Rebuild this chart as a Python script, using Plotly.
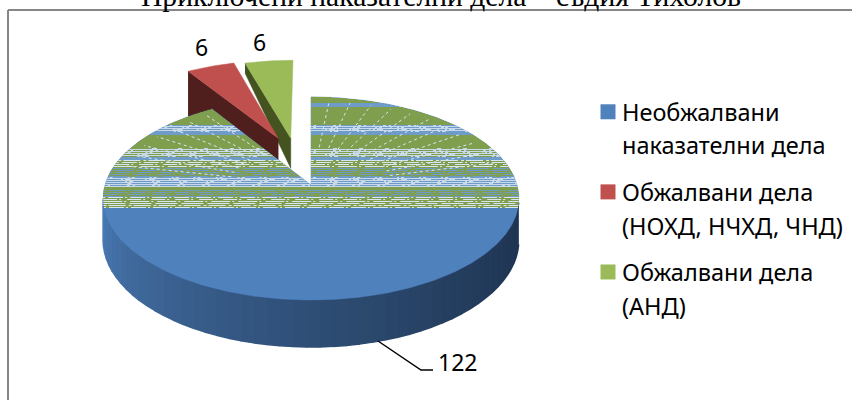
import numpy as np
import plotly.graph_objects as go

categories = ["Необжалвани<br>наказателни дела", "Обжалвани дела<br>(НОХД, НЧХД, ЧНД)", "Обжалвани дела<br>(АНД)"]
values = [122, 6, 6]
title_text = "Приключени наказателни дела – съдия Тихолов"
tops = ["#4f81bd", "#c0504d", "#9bbb59"]
sides = ["#2b4a70", "#4f1f1d", "#44531f"]
explode = [(0.0, 0.0), (-0.17, 0.50), (-0.105, 0.50)]
label_xy = [(457, 362), (201, 47), (259, 42)]

GREEN, LIGHT, MID, PALE = "#7f9f4f", "#c8d9ea", "#6f9bc8", "#dbe5f1"
# Texture of the rear half of the main slice: band top, band bottom (canvas px), base colour, speckle colour
band_y0 = [96, 103, 107, 118, 125, 132, 135, 148, 157, 160, 168, 177, 187, 190, 197]
band_y1 = [103, 107, 118, 125, 132, 135, 148, 157, 160, 168, 177, 187, 190, 197, 208]
band_base = [GREEN, MID, GREEN, GREEN, LIGHT, MID, GREEN, LIGHT, MID, GREEN, GREEN, LIGHT, GREEN, GREEN, GREEN]
band_speck = [None, None, None, None, MID, None, None, GREEN, None, PALE, MID, MID, None, MID, PALE]
dash_cycle = ["3px,2px,17px,3px", "19px,2px,2px,4px", "2px,3px,15px,2px", "22px,4px", "14px,2px,2px,6px"]

W, H = 852, 400
CX, CY, A, B, K = 311, 185, 206, 99.7, 0.133


def proj(X, Y):
    d = 1 + K * Y
    return CX + A * X / d, CY - B * Y / d


def arc(t0, t1, ox=0.0, oy=0.0, n=160):
    t = np.radians(np.linspace(t0, t1, n))
    return proj(ox + np.sin(t), oy + np.cos(t))


fig = go.Figure()


def poly(x, y, color, edge=0.5):
    fig.add_trace(go.Scatter(x=list(x), y=list(y), mode="lines", fill="toself", fillcolor=color,
                             line=dict(color=color, width=edge), hoverinfo="skip", showlegend=False))


def rows(segments, color, dash="solid", width=1.2):
    xs, ys = [], []
    for x0, x1, y in segments:
        xs += [x0, x1, None]
        ys += [y, y, None]
    fig.add_trace(go.Scatter(x=xs, y=ys, mode="lines", hoverinfo="skip", showlegend=False,
                             line=dict(color=color, width=width, dash=dash)))


angles = np.cumsum([0] + values) / sum(values) * 360
a1 = angles[1]

# Exploded green slice: wall, then face
ox, oy = explode[2]
gx, gy = arc(angles[2], angles[3], ox, oy, n=40)
apx, apy = proj(ox, oy)
poly([gx[0], apx, apx, gx[0]], [gy[0], apy, apy + 30, gy[0] + 10], sides[2])
poly(np.r_[apx, gx, apx], np.r_[apy, gy, apy], tops[2])

# Exploded red slice: wall, then face
ox, oy = explode[1]
rx_, ry_ = arc(angles[1], angles[2], ox, oy, n=40)
apx, apy = proj(ox, oy)
poly([rx_[0], apx, apx, rx_[0]], [ry_[0], apy, apy + 46, ry_[0] + 46], sides[1])
poly(np.r_[apx, rx_, apx], np.r_[apy, ry_, apy], tops[1])

# Main slice: side wall, in narrow shaded strips
wall_t = np.linspace(100, 262, 401)
wx, wy = arc(100, 262, n=401)
wd = 47 * (1 - K) / (1 + K * np.cos(np.radians(wall_t)))
dark = np.array([0x1f, 0x35, 0x52])
light = np.array([0x4a, 0x7a, 0xb4])
N_STRIPS = 50
for i in range(N_STRIPS):
    lo, hi = i * 8, (i + 1) * 8 + 1
    f = (i / (N_STRIPS - 1)) ** 1.4
    shade = (dark * (1 - f) + light * f).astype(int)
    poly(np.r_[wx[lo:hi], wx[lo:hi][::-1]], np.r_[wy[lo:hi], (wy[lo:hi] + wd[lo:hi])[::-1]],
         "#%02x%02x%02x" % tuple(shade), edge=1.5)

# Main slice: top face
mx, my = arc(0, a1, n=500)
poly(np.r_[CX, mx, CX], np.r_[CY, my, CY], tops[0])

# Main slice: rear half, row by row
ox_, oy_ = arc(0, 359.5, n=1440)
rh = ox_ >= CX
lh = ox_ < CX
ex, ey = arc(a1, a1, n=1)
ex, ey = ex[0], ey[0]


def chords(y):
    """Row segments of the main slice's face at height y."""
    right = ox_[rh][np.argmin(np.abs(oy_[rh] - y))]
    left = ox_[lh][np.argmin(np.abs(oy_[lh] - y))]
    if y >= CY:
        return [(left, right, y)]
    segs = [(CX, right, y)]
    if y >= ey:
        segs.append((left, CX + (ex - CX) * (CY - y) / (CY - ey), y))
    return segs


for y0, y1, base, speck in zip(band_y0, band_y1, band_base, band_speck):
    ys = np.arange(y0 + 0.5, y1, 1.0)
    segs = [s for y in ys for s in chords(y)]
    rows(segs, base)
    if speck:
        for j, y in enumerate(ys):
            if j % 2 == 0:
                rows(chords(y), speck, dash=dash_cycle[(j + y0) % len(dash_cycle)], width=1)

# Spokes of the texture
for th in np.arange(-78, 80, 7):
    if -34 < th < 4:
        continue
    s, c = np.sin(np.radians(th)), np.cos(np.radians(th))
    sx, sy = proj(0.4 * s, 0.4 * c)
    ex2, ey2 = proj(0.95 * s, 0.95 * c)
    fig.add_trace(go.Scatter(x=[sx, ex2], y=[sy, ey2], mode="lines", hoverinfo="skip", showlegend=False,
                             line=dict(color=PALE, width=1, dash="3px,3px")))

# Leader line of the big label
fig.add_trace(go.Scatter(x=[378, 421, 433], y=[341, 370, 370], mode="lines", hoverinfo="skip", showlegend=False,
                         line=dict(color="#000000", width=1.5)))

# Legend keys: one entry per text line, so each key sits on its first line
for cat, col in zip(categories, tops):
    for k, part in enumerate(cat.split("<br>")):
        fig.add_trace(go.Scatter(x=[None], y=[None], mode="markers", name=part, legendgroup=cat,
                                 marker=dict(symbol="square", size=15, color="rgba(0,0,0,0)" if k else col,
                                             angle=90, standoff=6)))

for val, (x, y) in zip(values, label_xy):
    fig.add_annotation(x=x, y=y, text=str(val), showarrow=False, xref="x", yref="y",
                       font=dict(size=23, color="#000000", family="Noto Sans"))

fig.add_annotation(x=441, y=14, text=title_text, showarrow=False, xref="x", yref="y", yanchor="bottom",
                   font=dict(size=29.6, color="#000000", family="Liberation Serif"))

# Outer frame
fig.add_shape(type="line", xref="x", yref="y", x0=8, x1=8, y0=10, y1=400, line=dict(color="#868686", width=2))
fig.add_shape(type="line", xref="x", yref="y", x0=8, x1=852, y0=10, y1=10, line=dict(color="#868686", width=2))

fig.update_layout(
    width=W, height=H, margin=dict(l=0, r=0, t=0, b=0), paper_bgcolor="#ffffff", plot_bgcolor="#ffffff",
    xaxis=dict(range=[0, W], visible=False, fixedrange=True),
    yaxis=dict(range=[H, 0], visible=False, fixedrange=True),
    legend=dict(x=582 / W, y=1 - 90 / H, xanchor="left", yanchor="top", tracegroupgap=13,
                font=dict(size=23.5, family="Noto Sans", color="#000000"), bgcolor="rgba(0,0,0,0)",
                itemsizing="trace", itemwidth=30),
)
fig.write_html("out.html", config={"displayModeBar": False}, post_script="document.body.style.margin='0';")
